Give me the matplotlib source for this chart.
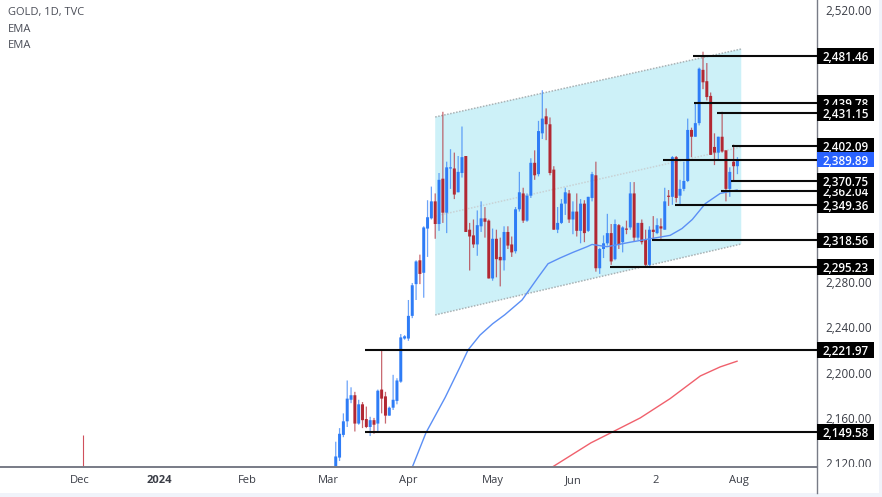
import matplotlib
matplotlib.use("Agg")
import matplotlib.pyplot as plt
from matplotlib.patches import Polygon, Rectangle
from matplotlib.transforms import ScaledTranslation

plt.rcParams["font.family"] = ["Open Sans", "DejaVu Sans"]

# daily candles, from early March to the end of July
opens = [2119, 2127, 2147, 2159, 2178, 2182, 2157, 2174, 2161, 2154, 2160, 2157, 2187, 2181, 2164,
         2171, 2177, 2194, 2232, 2232, 2252, 2280, 2301, 2290, 2329, 2338, 2353, 2333, 2373, 2343,
         2382, 2382, 2361, 2378, 2393, 2328, 2323, 2315, 2331, 2338, 2336, 2285, 2320, 2304, 2301,
         2326, 2315, 2309, 2346, 2360, 2336, 2358, 2387, 2377, 2413, 2428, 2421, 2381, 2328, 2334,
         2351, 2360, 2337, 2344, 2327, 2351, 2327, 2356, 2376, 2294, 2311, 2316, 2325, 2302, 2332,
         2317, 2329, 2330, 2360, 2321, 2334, 2319, 2297, 2328, 2325, 2331, 2328, 2358, 2357, 2392,
         2358, 2364, 2371, 2416, 2410, 2422, 2469, 2459, 2446, 2401, 2396, 2410, 2398, 2364, 2388, 2384]
closes = [2128, 2148, 2159, 2179, 2182, 2157, 2174, 2160, 2154, 2160, 2156, 2186, 2179, 2164, 2171,
          2178, 2195, 2233, 2234, 2252, 2279, 2300, 2289, 2330, 2339, 2353, 2333, 2372, 2343, 2383,
          2383, 2359, 2379, 2392, 2326, 2322, 2315, 2332, 2338, 2335, 2285, 2320, 2302, 2301, 2326,
          2314, 2308, 2346, 2361, 2336, 2358, 2387, 2376, 2415, 2426, 2421, 2378, 2328, 2334, 2351,
          2361, 2337, 2344, 2327, 2351, 2325, 2357, 2377, 2294, 2311, 2316, 2325, 2300, 2333, 2315,
          2330, 2328, 2360, 2321, 2334, 2317, 2297, 2328, 2326, 2332, 2329, 2353, 2357, 2392, 2356,
          2364, 2371, 2416, 2410, 2422, 2470, 2458, 2445, 2394, 2396, 2410, 2397, 2364, 2379, 2384, 2390]
highs = [2141, 2153, 2166, 2195, 2189, 2185, 2178, 2176, 2172, 2163, 2162, 2187, 2222, 2185, 2172,
         2200, 2197, 2236, 2235, 2266, 2281, 2301, 2306, 2331, 2354, 2366, 2360, 2378, 2432, 2388,
         2399, 2396, 2393, 2419, 2393, 2334, 2337, 2345, 2353, 2348, 2337, 2329, 2328, 2321, 2331,
         2331, 2322, 2348, 2379, 2365, 2360, 2391, 2398, 2424, 2451, 2435, 2427, 2384, 2348, 2355,
         2365, 2363, 2353, 2360, 2355, 2354, 2357, 2379, 2388, 2312, 2323, 2342, 2333, 2337, 2333,
         2331, 2336, 2370, 2370, 2334, 2337, 2328, 2331, 2340, 2338, 2338, 2365, 2363, 2393, 2393,
         2372, 2388, 2426, 2418, 2440, 2471, 2485, 2475, 2449, 2413, 2410, 2432, 2398, 2383, 2403, 2392]
lows = [2117, 2124, 2145, 2154, 2175, 2150, 2156, 2153, 2153, 2146, 2148, 2150, 2166, 2157, 2164,
        2169, 2174, 2193, 2231, 2230, 2250, 2266, 2280, 2268, 2304, 2337, 2320, 2327, 2334, 2325,
        2364, 2355, 2361, 2374, 2326, 2292, 2312, 2305, 2326, 2321, 2285, 2283, 2286, 2278, 2292,
        2311, 2304, 2307, 2344, 2334, 2335, 2356, 2372, 2375, 2408, 2407, 2376, 2328, 2325, 2333,
        2341, 2334, 2324, 2322, 2316, 2317, 2326, 2353, 2291, 2289, 2303, 2314, 2297, 2301, 2311,
        2308, 2324, 2328, 2318, 2319, 2315, 2295, 2295, 2320, 2324, 2320, 2328, 2349, 2350, 2352,
        2350, 2362, 2370, 2392, 2410, 2420, 2452, 2442, 2394, 2385, 2390, 2396, 2353, 2357, 2371, 2377]

# lone wick far on the left
stray_x = -66
stray_high = 2147
stray_low = 2100

ema_fast_x = [19, 23.6, 28.6, 32.5, 34.6, 37.7, 41, 44.2, 48.7, 52.9, 55.5, 58.6, 62, 65.7, 67, 70.9, 77, 82.2, 87.4, 90.5, 93.2, 96.6, 100.5, 104.9]
ema_fast = [2110, 2149, 2180, 2207, 2222, 2235, 2245, 2253, 2266, 2286, 2298, 2303, 2308, 2313, 2315, 2313, 2317, 2320, 2323, 2329, 2337, 2351, 2360, 2363]
ema_slow_x = [56.3, 66.7, 72, 79.6, 87.4, 95.3, 100.5, 104.9]
ema_slow = [2118, 2140, 2149, 2162, 2179, 2199, 2207, 2212]

# regression channel
channel_x = [26, 106]
channel_top = [2427.4, 2487.4]
channel_mid = [2340, 2400.9]
channel_bottom = [2252.8, 2315.4]

# order here is the stacking order of the price tags
level_prices = [2439.78, 2431.15, 2362.04, 2402.09, 2389.89, 2370.75, 2349.36, 2318.56, 2295.23, 2221.97, 2149.58, 2481.46]
level_starts = [93.7, 99.7, 100.7, 103.6, 85.6, 103.3, 88.7, 82.7, 71.7, 7.6, 7.6, 93.4]

tick_pos = [-67, -46, -23, -2, 19, 41, 62, 83.5, 105.4]
tick_labels = ["Dec", "2024", "Feb", "Mar", "Apr", "May", "Jun", "2", "Aug"]
price_ticks = [2120, 2160, 2200, 2240, 2280, 2520]

UP = "#2e7cf6"
DOWN = "#b22833"

fig = plt.figure(figsize=(8.82, 4.97), dpi=100)
ax = fig.add_axes([0, 30 / 497, 817 / 882, 467 / 497])

ax.add_patch(Polygon([(channel_x[0], channel_top[0]), (channel_x[1], channel_top[1]),
                      (channel_x[1], channel_bottom[1]), (channel_x[0], channel_bottom[0])],
                     facecolor="#cdf1f8", edgecolor="none", zorder=1))
for edge, col in [(channel_top, "#a9b2b5"), (channel_mid, "#c8d2d5"), (channel_bottom, "#a9b2b5")]:
    ax.plot(channel_x, edge, color=col, lw=1.1, ls=(0, (1, 1)), zorder=2)

xs = list(range(len(opens)))
for i in xs:
    col = UP if closes[i] >= opens[i] else DOWN
    wick = ax.vlines(i, lows[i], highs[i], color=col, lw=0.9, alpha=0.7, zorder=3)
    wick.set_snap(False)
    bottom = min(opens[i], closes[i])
    bars = ax.bar(i, max(abs(closes[i] - opens[i]), 1), bottom=bottom, width=0.78, color=col, linewidth=0, zorder=4)
    bars[0].set_snap(False)
ax.vlines(stray_x, stray_low, stray_high, color="#d0505c", lw=0.8, zorder=3)

ax.plot(ema_fast_x, ema_fast, color="#5b8ff5", lw=1.0, zorder=5)
ax.plot(ema_slow_x, ema_slow, color="#f0606c", lw=1.0, zorder=5)

ax.set_xlim(-87.76, 125.8)
ax.set_ylim(2118.7, 2530.6)

for n, (price, start) in enumerate(zip(level_prices, level_starts)):
    ax.plot([start, 125.8], [price, price], color="#0a0a0a", lw=1.5, zorder=6, solid_capstyle="butt")
    blue = price == 2389.89
    ax.add_patch(Rectangle((1.0, price - 6.9), 0.0698, 13.8, transform=ax.get_yaxis_transform(),
                           facecolor="#2962ff" if blue else "#000000", edgecolor="none",
                           clip_on=False, zorder=10 + n))
    ax.text(1.035, price, f"{price:,.2f}", transform=ax.get_yaxis_transform(), color="white",
            fontsize=8.4, fontweight="semibold", ha="center", va="center_baseline", clip_on=False, zorder=10 + n)

ax.set_xticks(tick_pos)
ax.set_xticklabels(tick_labels, fontsize=8, color="#3a3d46")
ax.get_xticklabels()[1].set_fontweight("bold")
ax.yaxis.tick_right()
ax.set_yticks(price_ticks)
ax.set_yticklabels([f"{p:,.2f}" for p in price_ticks], fontsize=8.4, color="#3a3d46")
ax.tick_params(axis="x", length=0, pad=6)
ax.tick_params(axis="y", length=0, pad=6)
# price labels sit a little above their level
shift = ScaledTranslation(0, 1.5 / 72, fig.dpi_scale_trans)
for lab in ax.get_yticklabels():
    lab.set_transform(lab.get_transform() + shift)

for side in ["top", "left"]:
    ax.spines[side].set_visible(False)
ax.spines["right"].set_color("#787b86")
ax.spines["bottom"].set_color("#787b86")
ax.spines["right"].set_linewidth(1.0)
ax.spines["bottom"].set_linewidth(1.4)
ax.spines["bottom"].set_zorder(9)

# date strip cuts off the lowest price label; axis line runs on through it, thin pale frame at bottom and right
fig.add_artist(Rectangle((817.5 / 882, 4 / 497), 62 / 882, 26 / 497, transform=fig.transFigure, facecolor="white", edgecolor="none"))
fig.add_artist(plt.Line2D([817 / 882, 817 / 882], [4 / 497, 30 / 497], color="#787b86", lw=1.0))
fig.add_artist(Rectangle((0, 0), 1, 4 / 497, transform=fig.transFigure, facecolor="#f0f3fa", edgecolor="none"))
fig.add_artist(Rectangle((879 / 882, 0), 3 / 882, 1, transform=fig.transFigure, facecolor="#f0f3fa", edgecolor="none"))

for label, y in zip(["GOLD, 1D, TVC", "EMA", "EMA"], [13, 30, 46]):
    fig.text(8 / 882, 1 - y / 497, label, fontsize=8, color="#4a4d57", va="center")

fig.savefig("out.png", dpi=100)
